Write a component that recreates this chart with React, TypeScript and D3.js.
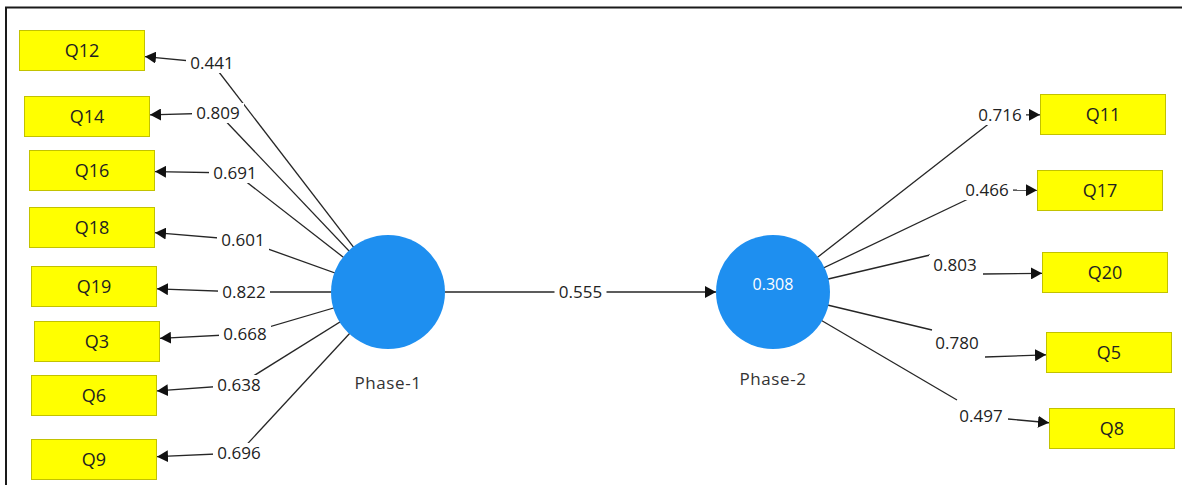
import { useEffect, useRef } from 'react'
import * as d3 from 'd3'

// measurement model values
const LEFT_ITEMS = ['Q12', 'Q14', 'Q16', 'Q18', 'Q19', 'Q3', 'Q6', 'Q9']
const LEFT_LOADINGS = [0.441, 0.809, 0.691, 0.601, 0.822, 0.668, 0.638, 0.696]
const RIGHT_ITEMS = ['Q11', 'Q17', 'Q20', 'Q5', 'Q8']
const RIGHT_LOADINGS = [0.716, 0.466, 0.803, 0.78, 0.497]
const CONSTRUCTS = ['Phase-1', 'Phase-2']
const R_SQUARED = [null, 0.308]
const PATH_COEF = 0.555

// diagram layout (pixels), kept apart from the values
const LEFT_BOXES: [number, number][] = [[19, 30], [24, 96], [29, 150], [29, 207], [31, 266], [34, 321], [31, 375], [31, 439]]
const LEFT_LABELS: [number, number][] = [[212, 63], [218, 113], [235, 173], [243, 240], [244, 292], [245, 334], [239, 385], [239, 453]]
const RIGHT_BOXES: [number, number][] = [[1040, 94], [1037, 170], [1042, 252], [1046, 332], [1049, 408]]
const RIGHT_LABELS: [number, number][] = [[1000, 115], [987, 190], [955, 265], [957, 343], [981, 416]]
const RIGHT_LINE_ENDS: ([number, number] | null)[] = [null, null, [930, 255], [932, 330], [957, 400]]
const RIGHT_ARROW_STARTS: ([number, number] | null)[] = [null, null, [983, 274], [985, 357], [1008, 419]]
const CENTERS: [number, number][] = [[388, 292], [773, 292]]
const NAME_DY = [97, 93]

const W = 1182
const H = 485
const BOX_W = 126
const BOX_H = 41
const R = 57
const FONT = '"Open Sans", "Noto Sans", sans-serif'

type Pt = [number, number]

function clipToBox(p: Pt, bx: number, by: number): Pt {
  const cx = bx + BOX_W / 2
  const cy = by + BOX_H / 2
  const dx = cx - p[0]
  const dy = cy - p[1]
  const tx = dx !== 0 ? (BOX_W / 2) / Math.abs(dx) : Infinity
  const ty = dy !== 0 ? (BOX_H / 2) / Math.abs(dy) : Infinity
  const t = Math.min(tx, ty)
  return [cx - dx * t, cy - dy * t]
}

export default function App() {
  const ref = useRef<SVGSVGElement>(null)

  useEffect(() => {
    document.body.style.margin = '0'
    const svg = d3.select(ref.current)
    svg.selectAll('*').remove()
    svg.attr('width', W).attr('height', H).attr('viewBox', `0 0 ${W} ${H}`)

    svg.append('defs').append('marker')
      .attr('id', 'arr')
      .attr('viewBox', '0 -6 11 12')
      .attr('refX', 11)
      .attr('refY', 0)
      .attr('markerWidth', 11)
      .attr('markerHeight', 12)
      .attr('markerUnits', 'userSpaceOnUse')
      .attr('orient', 'auto')
      .append('path')
      .attr('d', 'M0,-6L11,0L0,6Z')
      .attr('fill', '#111')

    svg.append('rect').attr('width', W).attr('height', H).attr('fill', '#fff')

    // frame
    svg.append('path')
      .attr('d', `M6,${H}V7.5H${W}`)
      .attr('fill', 'none')
      .attr('stroke', '#1a1a1a')
      .attr('stroke-width', 2)

    const items = [
      ...LEFT_ITEMS.map((name, i) => ({
        name, value: LEFT_LOADINGS[i], c: CENTERS[0], box: LEFT_BOXES[i], label: LEFT_LABELS[i],
        lineEnd: LEFT_LABELS[i], arrowStart: LEFT_LABELS[i],
      })),
      ...RIGHT_ITEMS.map((name, i) => ({
        name, value: RIGHT_LOADINGS[i], c: CENTERS[1], box: RIGHT_BOXES[i], label: RIGHT_LABELS[i],
        lineEnd: RIGHT_LINE_ENDS[i] ?? RIGHT_LABELS[i], arrowStart: RIGHT_ARROW_STARTS[i] ?? RIGHT_LABELS[i],
      })),
    ]

    const line = d3.line()
    const gLines = svg.append('g').attr('stroke', '#262626').attr('stroke-width', 1.3).attr('fill', 'none')

    gLines.selectAll('path.load')
      .data(items)
      .join('path')
      .attr('class', 'load')
      .attr('d', d => line([d.c, d.lineEnd as Pt]))

    gLines.selectAll('path.arrow')
      .data(items)
      .join('path')
      .attr('class', 'arrow')
      .attr('d', d => line([d.arrowStart as Pt, clipToBox(d.arrowStart as Pt, d.box[0], d.box[1])]))
      .attr('marker-end', 'url(#arr)')

    // structural path
    gLines.append('path')
      .attr('d', line([[CENTERS[0][0] + R, CENTERS[0][1]], [CENTERS[1][0] - R, CENTERS[1][1]]]))
      .attr('marker-end', 'url(#arr)')

    // constructs
    const gC = svg.append('g')
    gC.selectAll('circle')
      .data(CONSTRUCTS)
      .join('circle')
      .attr('cx', (_, i) => CENTERS[i][0])
      .attr('cy', (_, i) => CENTERS[i][1])
      .attr('r', R)
      .attr('fill', '#1e8ff0')
    gC.selectAll('text.name')
      .data(CONSTRUCTS)
      .join('text')
      .attr('class', 'name')
      .attr('x', (_, i) => CENTERS[i][0])
      .attr('y', (_, i) => CENTERS[i][1] + NAME_DY[i])
      .attr('text-anchor', 'middle')
      .attr('font-family', FONT)
      .attr('font-size', 17)
      .attr('letter-spacing', 0.6)
      .attr('fill', '#333')
      .text(d => d)
    gC.selectAll('text.r2')
      .data(R_SQUARED.map((v, i) => ({ v, i })).filter(d => d.v !== null))
      .join('text')
      .attr('class', 'r2')
      .attr('x', d => CENTERS[d.i][0])
      .attr('y', d => CENTERS[d.i][1] - 8)
      .attr('dy', '0.35em')
      .attr('text-anchor', 'middle')
      .attr('font-family', FONT)
      .attr('font-size', 16)
      .attr('fill', '#fff')
      .text(d => d3.format('.3f')(d.v as number))

    // value labels
    const fmt = d3.format('.3f')
    const labels = [
      ...items.map(d => ({ text: fmt(d.value), x: d.label[0], y: d.label[1] })),
      { text: fmt(PATH_COEF), x: (CENTERS[0][0] + CENTERS[1][0]) / 2, y: CENTERS[0][1] },
    ]
    const gL = svg.append('g')
    const lg = gL.selectAll('g').data(labels).join('g')
      .attr('transform', d => `translate(${d.x},${d.y})`)
    lg.append('rect')
      .attr('x', -26).attr('y', -10).attr('width', 52).attr('height', 20)
      .attr('fill', '#fff')
    lg.append('text')
      .attr('text-anchor', 'middle')
      .attr('dy', '0.35em')
      .attr('font-family', FONT)
      .attr('font-size', 17)
      .attr('fill', '#222')
      .text(d => d.text)

    // indicators
    const gB = svg.append('g').selectAll('g').data(items).join('g')
      .attr('transform', d => `translate(${d.box[0]},${d.box[1]})`)
    gB.append('rect')
      .attr('x', 0.5).attr('y', 0.5)
      .attr('width', BOX_W - 1).attr('height', BOX_H - 1)
      .attr('fill', '#ffff00')
      .attr('stroke', '#c2c200')
      .attr('stroke-width', 1)
    gB.append('text')
      .attr('x', BOX_W / 2)
      .attr('y', BOX_H / 2)
      .attr('dy', '0.35em')
      .attr('text-anchor', 'middle')
      .attr('font-family', FONT)
      .attr('font-size', 18)
      .attr('fill', '#222')
      .text(d => d.name)
  }, [])

  return <svg ref={ref} style={{ display: 'block' }} />
}
